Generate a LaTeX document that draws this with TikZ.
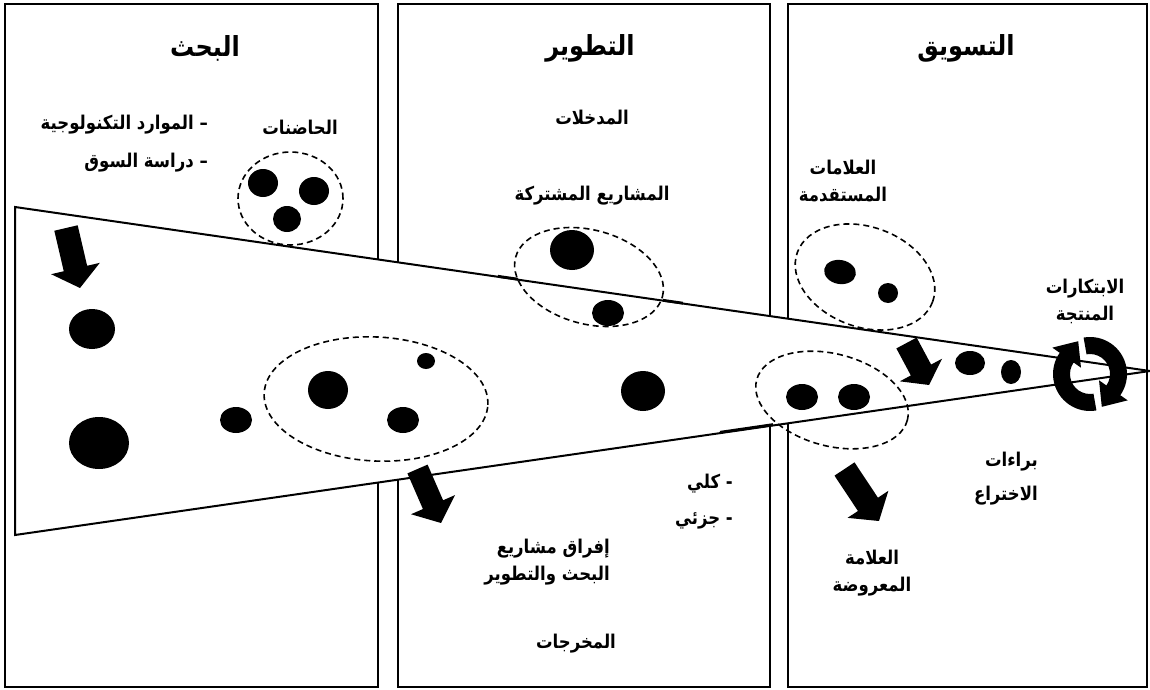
\documentclass[tikz,border=0pt]{standalone}
\usepackage{fontspec}
\usetikzlibrary{shapes.geometric,calc}
\newfontfamily\arabicfont[Script=Arabic]{DejaVu Sans}
\TeXXeTstate=1
\newcommand\ar[1]{\scalebox{1}[1.15]{\beginR #1\endR}}
% block arrow: start, end, shaft half width, head half width, head length
\newcommand\blockarrow[5]{%
  \fill let \p1=(#1), \p2=(#2),
    \n1={atan2(\y2-\y1,\x2-\x1)}, \n2={veclen(\x2-\x1,\y2-\y1)} in
    [shift={(\p1)}, rotate=\n1]
    (0pt,-#3pt) -- ({(\n2-#5)*1pt},-#3pt) -- ({(\n2-#5)*1pt},-#4pt)
    -- ({\n2*1pt},0pt) -- ({(\n2-#5)*1pt},#4pt) -- ({(\n2-#5)*1pt},#3pt)
    -- (0pt,#3pt) -- cycle;}
\begin{document}
\begin{tikzpicture}[x=1pt,y=-1pt,
  frame/.style={draw, line width=2pt, inner sep=0pt, anchor=north west},
  funnel/.style={draw, fill=white, line width=2pt},
  grp/.style={ellipse, draw, dash pattern=on 6pt off 4pt, line width=1.6pt, inner sep=0pt},
  dot/.style={ellipse, fill=black, inner sep=0pt},
  ttl/.style={font=\arabicfont\bfseries\fontsize{24}{28}\selectfont, inner sep=0pt},
  lbl/.style={font=\arabicfont\bfseries\fontsize{16.5}{27}\selectfont, inner sep=0pt, align=center},
]
\useasboundingbox[fill=white] (0,0) rectangle (1150,690);

% the three columns
\node[frame, minimum width=373pt, minimum height=683pt] (colR) at (4,3) {};
\node[frame, minimum width=372pt, minimum height=683pt] (colD) at (397,3) {};
\node[frame, minimum width=359pt, minimum height=683pt] (colM) at (787,3) {};

% the funnel
\coordinate (fTL) at (15,207);
\coordinate (fA) at (1150,371);
\coordinate (fBL) at (15,535);
\draw[funnel] (fTL) -- (fA) -- (fBL) -- cycle;
\draw[line width=2.8pt] (498,276.3) -- (518,279.2);
\draw[line width=2.8pt] (663,300.3) -- (683,303.2);
\draw[line width=2.8pt] (720,432.3) -- (773,424.6);

% dashed groups
\node[grp, minimum width=105pt, minimum height=93pt] (g1) at (290.5,198.5) {};
\node[grp, minimum width=152pt, minimum height=94pt, rotate=-15] (g2) at (589,277) {};
\node[grp, minimum width=224pt, minimum height=124pt, rotate=-3] (g3) at (376,399) {};
\node[grp, minimum width=144pt, minimum height=100pt, rotate=-20] (g4) at (865,277) {};
\node[grp, minimum width=156pt, minimum height=92pt, rotate=-15] (g5) at (832,400) {};

% dots
\node[dot, minimum width=30pt, minimum height=28pt] (d1) at (263,183) {};
\node[dot, minimum width=30pt, minimum height=28pt] (d2) at (314,191) {};
\node[dot, minimum width=28pt, minimum height=26pt] (d3) at (287,219) {};
\node[dot, minimum width=46pt, minimum height=40pt] (d4) at (92,329) {};
\node[dot, minimum width=60pt, minimum height=52pt] (d5) at (99,443) {};
\node[dot, minimum width=32pt, minimum height=26pt] (d6) at (236,420) {};
\node[dot, minimum width=40pt, minimum height=38pt] (d7) at (328,390) {};
\node[dot, minimum width=32pt, minimum height=26pt] (d8) at (403,420) {};
\node[dot, minimum width=18pt, minimum height=16pt] (d9) at (426,361) {};
\node[dot, minimum width=44pt, minimum height=40pt] (d10) at (572,250) {};
\node[dot, minimum width=32pt, minimum height=26pt] (d11) at (608,313) {};
\node[dot, minimum width=44pt, minimum height=40pt] (d12) at (643,391) {};
\node[dot, minimum width=32pt, minimum height=24pt, rotate=-10] (d13) at (840,272) {};
\node[dot, minimum width=20pt, minimum height=20pt] (d14) at (888,293) {};
\node[dot, minimum width=32pt, minimum height=26pt] (d15) at (802,397) {};
\node[dot, minimum width=32pt, minimum height=26pt] (d16) at (854,397) {};
\node[dot, minimum width=30pt, minimum height=24pt] (d17) at (970,363) {};
\node[dot, minimum width=20pt, minimum height=24pt] (d18) at (1011,372) {};

% block arrows
\coordinate (a1s) at (66,228);  \coordinate (a1e) at (80,288);
\coordinate (a2s) at (417.5,469); \coordinate (a2e) at (441,523);
\coordinate (a3s) at (844.5,469); \coordinate (a3e) at (879,521);
\coordinate (a4s) at (906.5,343); \coordinate (a4e) at (929,385);
\blockarrow{a1s}{a1e}{12}{25}{20}
\blockarrow{a2s}{a2e}{11}{24}{20}
\blockarrow{a3s}{a3e}{12}{24.5}{20}
\blockarrow{a4s}{a4e}{11.5}{24}{17}

% cycle symbol: two clockwise arrows on a ring
\coordinate (cyc) at (1090,374);
\begin{scope}[shift={(cyc)}, x=1pt, y=1pt]
  \foreach \r in {0,180}{
    \fill[rotate=\r] (100:37) arc[start angle=100, end angle=-35, radius=37]
      -- (-35:46) -- (11.8,-32.8) -- (-35:11) -- (-35:20)
      arc[start angle=-35, end angle=100, radius=20] -- cycle;
  }
\end{scope}

% column titles
\node[ttl] (tR) at (205,48) {\ar{البحث}};
\node[ttl] (tD) at (590,48) {\ar{التطوير}};
\node[ttl] (tM) at (966,48) {\ar{التسويق}};

% labels
\node[lbl] (inc) at (300,127) {\ar{الحاضنات}};
\node[lbl, anchor=east] (res1) at (208,125) {\ar{– الموارد التكنولوجية}};
\node[lbl, anchor=east] (res2) at (208,163) {\ar{– دراسة السوق}};
\node[lbl] (inp) at (592,118) {\ar{المدخلات}};
\node[lbl] (joint) at (592,196) {\ar{المشاريع المشتركة}};
\node[lbl] (adv) at (843,181) {\ar{العلامات}\\\ar{المستقدمة}};
\node[lbl] (inn) at (1085,301) {\ar{الابتكارات}\\\ar{المنتجة}};
\node[lbl, anchor=east] (tot) at (733,484) {\ar{- كلي}};
\node[lbl, anchor=east] (par) at (733,521) {\ar{- جزئي}};
\node[lbl, align=right, anchor=east] (drop) at (610,562) {\ar{إفراق مشاريع}\\\ar{البحث والتطوير}};
\node[lbl] (out) at (576,644) {\ar{المخرجات}};
\node[lbl, align=right, anchor=east, font=\arabicfont\bfseries\fontsize{16.5}{34}\selectfont] (pat) at (1038,479) {\ar{براءات}\\\ar{الاختراع}};
\node[lbl] (brand) at (872,573) {\ar{العلامة}\\\ar{المعروضة}};
\end{tikzpicture}
\end{document}
